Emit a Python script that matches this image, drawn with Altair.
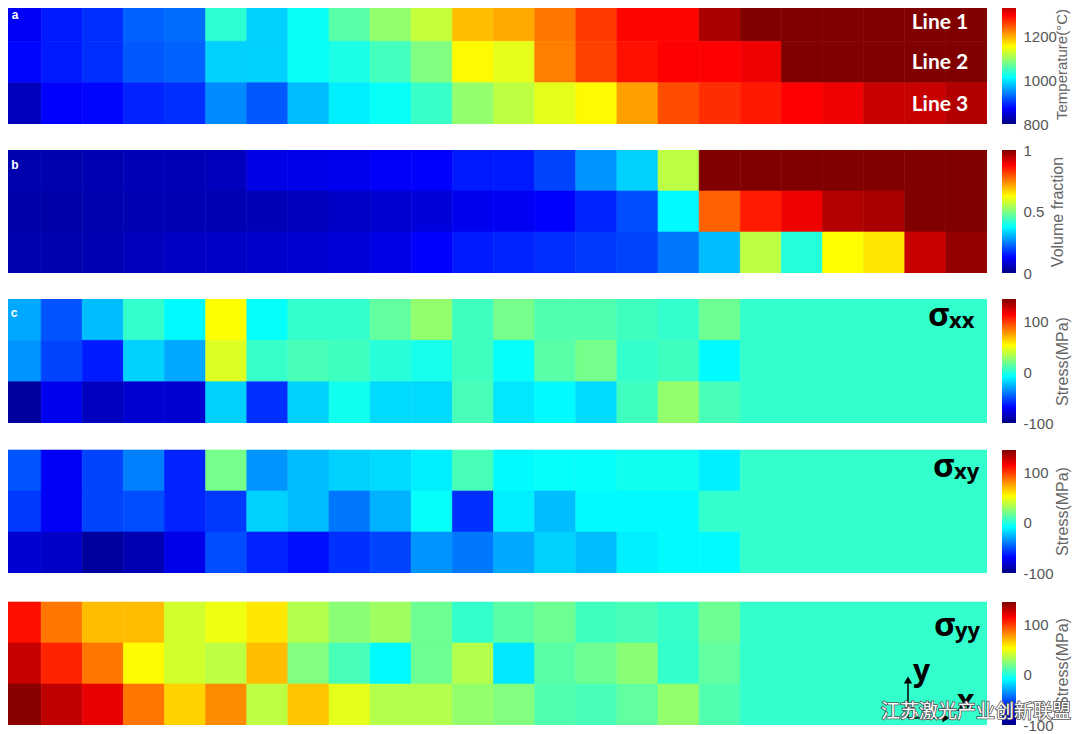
import altair as alt
import pandas as pd

# colour stops of the jet map
JET = ["#000080", "#0000ff", "#0080ff", "#00ffff", "#80ff80", "#ffff00", "#ff8000", "#ff0000", "#800000"]

# Temperature (deg C), lines 1-3, 24 columns
temp_1 = [868, 886, 897, 925, 931, 1039, 988, 1017, 1062, 1096, 1125, 1193, 1205, 1233, 1267, 1296, 1296, 1347, 1370, 1370, 1370, 1370, 1370, 1370]
temp_2 = [874, 886, 897, 920, 925, 988, 988, 1017, 1028, 1051, 1085, 1159, 1142, 1228, 1262, 1290, 1299, 1299, 1307, 1370, 1370, 1370, 1370, 1370]
temp_3 = [834, 871, 874, 891, 897, 948, 920, 977, 1005, 1017, 1045, 1096, 1119, 1142, 1159, 1210, 1256, 1273, 1285, 1299, 1307, 1330, 1330, 1342]

# Volume fraction
vol_1 = [.045, .045, .05, .055, .055, .06, .10, .105, .11, .12, .125, .15, .15, .19, .27, .33, .56, 1, 1, 1, 1, 1, 1, 1]
vol_2 = [.04, .04, .045, .05, .05, .05, .055, .06, .07, .08, .09, .11, .115, .125, .16, .20, .37, .78, .85, .89, .95, .96, 1, 1]
vol_3 = [.045, .045, .05, .06, .065, .07, .075, .08, .09, .10, .125, .15, .16, .17, .18, .19, .24, .31, .56, .41, .625, .65, .93, .98]

# Stress xx (MPa)
sxx_1 = [-29, -49, -24, 4, -9, 53, -7, 4, 4, 15, 27, 7, 20, 11, 11, 7, 4, 18, 4, 4, 4, 4, 4, 4]
sxx_2 = [-34, -53, -63, -19, -29, 45, 5, 9, 7, 1, -3, 7, -7, 13, 20, 4, 7, -9, 4, 4, 4, 4, 4, 4]
sxx_3 = [-93, -73, -85, -80, -80, -19, -58, -19, -4, -17, -17, 9, -14, -9, -17, 7, 27, 9, 4, 4, 4, 4, 4, 4]

# Stress xy (MPa)
sxy_1 = [-49, -71, -53, -39, -61, 20, -34, -24, -19, -17, -12, 9, -9, -7, -7, -4, -4, -12, 4, 4, 4, 4, 4, 4]
sxy_2 = [-56, -71, -53, -51, -61, -56, -19, -24, -41, -27, -7, -58, -12, -24, -9, -9, -9, 4, 4, 4, 4, 4, 4, 4]
sxy_3 = [-80, -83, -93, -88, -75, -51, -61, -66, -58, -53, -34, -41, -29, -19, -24, -12, -9, -9, 4, 4, 4, 4, 4, 4]

# Stress yy (MPa)
syy_1 = [111, 86, 69, 69, 42, 49, 59, 35, 25, 30, 18, 4, 13, 18, 7, 9, 5, 18, 4, 4, 4, 4, 4, 4]
syy_2 = [128, 106, 86, 54, 42, 37, 69, 23, 9, -9, 18, 35, -14, 13, 18, 25, 4, 15, 4, 4, 4, 4, 4, 4]
syy_3 = [143, 130, 120, 86, 64, 81, 37, 67, 47, 35, 35, 27, 23, 11, 9, 15, 27, 11, 4, 4, 4, 4, 4, 4]

COL_W = 987 / 24
LEFT_CUT = 8 / COL_W   # page margin hides the first 8 px


def frame(rows):
    return pd.DataFrame(
        [
            {"col": c, "col2": c + 1, "row": r, "row2": r + 1, "v": v}
            for r, vals in enumerate(rows)
            for c, v in enumerate(vals)
        ]
    )


def notes(items):
    layers = []
    for text, x, y, size, color, font, weight, align in items:
        layers.append(
            alt.Chart(pd.DataFrame({"t": [text]}))
            .mark_text(fontSize=size, color=color, font=font, fontWeight=weight, align=align, baseline="middle")
            .encode(text="t:N", x=alt.value(x), y=alt.value(y))
        )
    return layers


def heat(rows, lo, hi, height, cells_h, extra, top_shift=0):
    """top_shift > 0: cut that many px off the top; < 0: blank px above the cells."""
    scale = alt.Scale(domain=[lo, hi], range=JET, clamp=True, interpolate="rgb")
    base = (
        alt.Chart(frame(rows))
        .mark_rect(strokeWidth=0.6, clip=True)
        .encode(
            x=alt.X("col:Q", axis=None, scale=alt.Scale(domain=[LEFT_CUT, 24], nice=False, zero=False)),
            x2="col2:Q",
            y=alt.Y("row:Q", axis=None, scale=alt.Scale(domain=[3, top_shift / (cells_h / 3)], nice=False, zero=False)),
            y2="row2:Q",
            color=alt.Color("v:Q", scale=scale, legend=None),
            stroke=alt.Stroke("v:Q", scale=scale, legend=None),
        )
    )
    return alt.layer(base, *extra).properties(width=987 - 8, height=height)


def bar(lo, hi, cells_h, ticks, title, height, pad, extra=(), top_shift=0, title_y=None, title_size=16):
    grad = alt.Gradient(
        gradient="linear", x1=0, y1=1, x2=0, y2=0,
        stops=[alt.GradientStop(offset=i / 8, color=c) for i, c in enumerate(JET)],
    )
    top = hi - top_shift * (hi - lo) / cells_h
    axis_args = dict(
        values=ticks, orient="right", title=title, domain=False, ticks=False, grid=False,
        labelPadding=7, labelFontSize=15, labelColor="#555555", labelFont="Liberation Sans",
        labelOverlap=False, labelBound=False, labelFlush=False, labelExpr="'' + datum.value",
        titleFontSize=title_size, titleFontWeight="normal", titleColor="#666666",
        titleFont="Liberation Sans", titleAngle=270, titlePadding=pad,
    )
    if title_y is not None:
        axis_args["titleY"] = title_y
    rect = (
        alt.Chart(pd.DataFrame({"lo": [lo], "hi": [hi]}))
        .mark_rect(color=grad, clip=True)
        .encode(
            x=alt.value(0),
            x2=alt.value(14),
            y=alt.Y("lo:Q", axis=alt.Axis(**axis_args), scale=alt.Scale(domain=[lo, top], nice=False, zero=False)),
            y2="hi:Q",
        )
    )
    return alt.layer(rect, *extra).properties(width=14, height=height)


SANS = "Open Sans"
LAB = "Liberation Sans"

a_notes = notes([
    ("a", 7, 7, 12, "white", LAB, "bold", "center"),
    ("Line 1", 932, 15, 21, "white", "Lato", "bold", "center"),
    ("Line 2", 932, 55, 21, "white", "Lato", "bold", "center"),
    ("Line 3", 932, 97, 21, "white", "Lato", "bold", "center"),
])
b_notes = notes([("b", 7, 15, 12, "white", LAB, "bold", "center")])
c_notes = notes([
    ("c", 6, 14, 12, "white", LAB, "bold", "center"),
    ("σ", 920, 17, 33, "black", SANS, "bold", "left"),
    ("xx", 941, 22, 22, "black", SANS, "bold", "left"),
])
d_notes = notes([
    ("σ", 925, 18, 33, "black", SANS, "bold", "left"),
    ("xy", 946, 23, 22, "black", SANS, "bold", "left"),
])
E_TOP = 3  # blank px above the last panel's cells
e_notes = notes([
    ("σ", 926, 24 + E_TOP, 33, "black", SANS, "bold", "left"),
    ("yy", 947, 29 + E_TOP, 22, "black", SANS, "bold", "left"),
    ("y", 905, 70 + E_TOP, 30, "black", SANS, "bold", "left"),
    ("x", 949, 100 + E_TOP, 30, "black", SANS, "bold", "left"),
])
one = pd.DataFrame({"k": [0]})
arrow = [
    alt.Chart(one).mark_rule(color="black", strokeWidth=1.5).encode(
        x=alt.value(900), y=alt.value(80 + E_TOP), y2=alt.value(116 + E_TOP)),
    alt.Chart(one).mark_rule(color="black", strokeWidth=1.5).encode(
        x=alt.value(900), x2=alt.value(937), y=alt.value(116 + E_TOP)),
    alt.Chart(one).mark_point(shape="triangle-up", filled=True, color="black", size=70, opacity=1).encode(
        x=alt.value(900), y=alt.value(78 + E_TOP)),
    alt.Chart(one).mark_point(shape="triangle-right", filled=True, color="black", size=70, opacity=1).encode(
        x=alt.value(938), y=alt.value(116 + E_TOP)),
]
WM = "江苏激光产业创新联盟"
wm_halo = (
    alt.Chart(pd.DataFrame({"t": [WM]}))
    .mark_text(fontSize=19, font="Noto Sans CJK SC", align="left", baseline="middle",
               fill="#555555", stroke="#555555", strokeWidth=1.6)
    .encode(text="t:N", x=alt.value(-121), y=alt.value(110 + E_TOP))
)
watermark = [wm_halo] + notes([(WM, -121, 110 + E_TOP, 19, "white", "Noto Sans CJK SC", "normal", "left")])

S_TICKS = [-100, 0, 100]

chart = (
    alt.concat(
        heat([temp_1, temp_2, temp_3], 800, 1370, 116, 124, a_notes, top_shift=8),
        bar(800, 1370, 124, [800, 1000, 1200], "Temperature(°C)", 116, 13, top_shift=8, title_y=56, title_size=15),
        heat([vol_1, vol_2, vol_3], 0, 1, 123, 123, b_notes),
        bar(0, 1, 123, [0, 0.5, 1], "Volume fraction", 123, 22),
        heat([sxx_1, sxx_2, sxx_3], -100, 145, 124, 124, c_notes),
        bar(-100, 145, 124, S_TICKS, "Stress(MPa)", 124, 17),
        heat([sxy_1, sxy_2, sxy_3], -100, 145, 124, 123, d_notes, top_shift=-1),
        bar(-100, 145, 123, S_TICKS, "Stress(MPa)", 124, 17, top_shift=-1),
        heat([syy_1, syy_2, syy_3], -100, 145, 123 + E_TOP, 123, e_notes + arrow, top_shift=-E_TOP),
        bar(-100, 145, 123, S_TICKS, "Stress(MPa)", 123 + E_TOP, 17, extra=watermark, top_shift=-E_TOP),
        columns=2,
        spacing={"row": 26, "column": 15},
        bounds="flush",
    )
    .resolve_scale(color="independent", stroke="independent")
    .properties(padding=0, background="white")
    .configure_view(strokeWidth=0)
)

chart.save("out.html", embed_options={"renderer": "svg", "actions": False})
